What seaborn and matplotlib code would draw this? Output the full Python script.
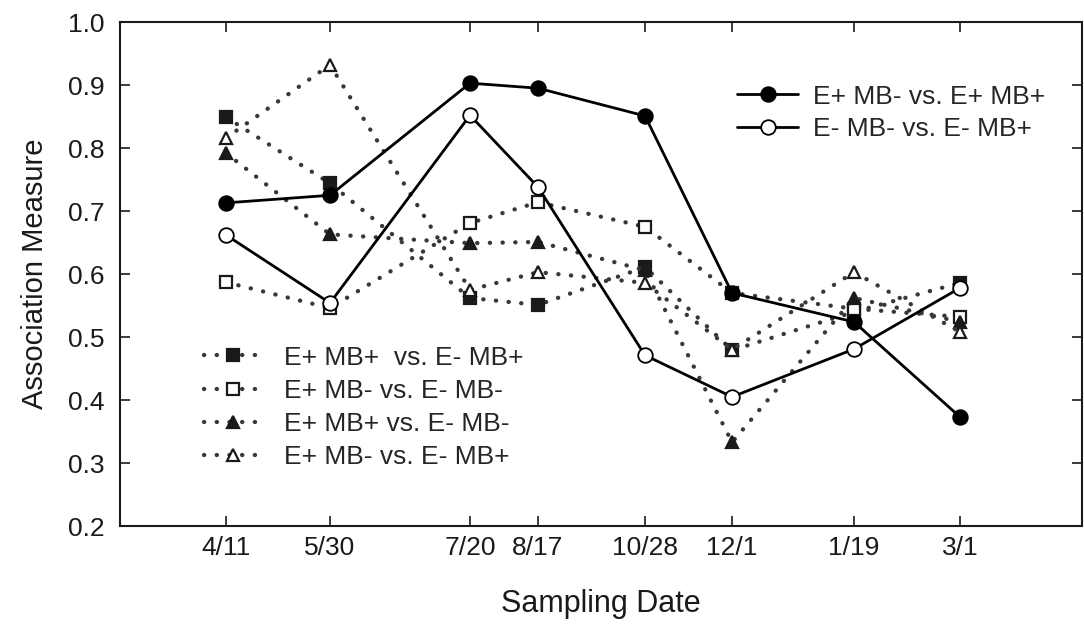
import matplotlib
matplotlib.use("Agg")
import matplotlib.pyplot as plt
import seaborn as sns
import pandas as pd

# ---- data ----
dates = ["4/11", "5/30", "7/20", "8/17", "10/28", "12/1", "1/19", "3/1"]
date_pos = [0, 104, 244, 312, 419, 506, 628, 734]   # horizontal spacing of sampling dates

ep_mbm_vs_ep_mbp = [0.713, 0.725, 0.903, 0.895, 0.851, 0.570, 0.524, 0.373]
em_mbm_vs_em_mbp = [0.662, 0.554, 0.852, 0.738, 0.471, 0.405, 0.481, 0.578]
ep_mbp_vs_em_mbp = [0.849, 0.744, 0.562, 0.551, 0.611, 0.479, 0.540, 0.586]
ep_mbm_vs_em_mbm = [0.587, 0.546, 0.681, 0.714, 0.675, 0.570, 0.545, 0.532]
ep_mbp_vs_em_mbm = [0.792, 0.663, 0.649, 0.651, 0.606, 0.333, 0.562, 0.524]
ep_mbm_vs_em_mbp = [0.816, 0.932, 0.575, 0.603, 0.586, 0.480, 0.603, 0.508]

solid_labels = ["E+ MB- vs. E+ MB+", "E- MB- vs. E- MB+"]
dotted_labels = ["E+ MB+  vs. E- MB+", "E+ MB- vs. E- MB-",
                 "E+ MB+ vs. E- MB-", "E+ MB- vs. E- MB+"]

sns.set_style("ticks")
plt.rcParams["font.family"] = ["Liberation Sans", "DejaVu Sans"]

fig = plt.figure(figsize=(10.84, 6.30), dpi=100)
ax = fig.add_axes([0.1107, 0.165, 0.8875, 0.800])

dot_ls = (0, (0.05, 2.9))
dot_col = "#383838"

dotted_series = [ep_mbp_vs_em_mbp, ep_mbm_vs_em_mbm, ep_mbp_vs_em_mbm, ep_mbm_vs_em_mbp]
dotted_markers = [("s", "#1a1a1a"), ("s", "white"), ("^", "#1a1a1a"), ("^", "white")]
dotted_handles = []
for vals, (mk, fc), lab in zip(dotted_series, dotted_markers, dotted_labels):
    df = pd.DataFrame({"x": date_pos, "y": vals})
    sns.lineplot(data=df, x="x", y="y", ax=ax, color=dot_col, linestyle=dot_ls,
                 linewidth=3.1, dash_capstyle="round", marker=mk, markersize=8.5,
                 markerfacecolor=fc, markeredgecolor="#1a1a1a", markeredgewidth=1.6,
                 zorder=2, legend=False)
    dotted_handles.append(ax.lines[-1])

solid_series = [ep_mbm_vs_ep_mbp, em_mbm_vs_em_mbp]
solid_fc = ["black", "white"]
solid_handles = []
for vals, fc, lab in zip(solid_series, solid_fc, solid_labels):
    df = pd.DataFrame({"x": date_pos, "y": vals})
    sns.lineplot(data=df, x="x", y="y", ax=ax, color="black", linewidth=2.0,
                 marker="o", markersize=10.5, markerfacecolor=fc,
                 markeredgecolor="black", markeredgewidth=1.3, zorder=3, legend=False)
    solid_handles.append(ax.lines[-1])

ax.set_xlim(-106, 856)
ax.set_ylim(0.2, 1.0)
ax.set_xticks(date_pos)
ax.set_xticklabels(dates)
ax.set_yticks([0.2, 0.3, 0.4, 0.5, 0.6, 0.7, 0.8, 0.9, 1.0])
ax.set_yticklabels(["0.2", "0.3", "0.4", "0.5", "0.6", "0.7", "0.8", "0.9", "1.0"])
ax.tick_params(direction="in", top=True, right=True, length=7, width=1.2,
               labelsize=19, colors="#1a1a1a")
ax.tick_params(axis="x", pad=7)
ax.tick_params(axis="y", pad=11)
for s in ax.spines.values():
    s.set_linewidth(1.5)
    s.set_color("#1a1a1a")

ax.set_xlabel("Sampling Date", fontsize=22, labelpad=21, color="#1a1a1a")
ax.set_ylabel("Association Measure", fontsize=21, labelpad=14, color="#1a1a1a")

leg1 = ax.legend(solid_handles, solid_labels, loc="upper left",
                 bbox_to_anchor=(0.6306, 0.897), frameon=False, fontsize=19,
                 handlelength=2.3, handletextpad=0.57, labelspacing=0.33,
                 borderaxespad=0.0)
ax.add_artist(leg1)
ax.legend(dotted_handles, dotted_labels, loc="upper left",
          bbox_to_anchor=(0.0765, 0.379), frameon=False, fontsize=19,
          handlelength=2.2, handletextpad=0.83, labelspacing=0.35,
          borderaxespad=0.0)

fig.savefig("out.png", dpi=100)
